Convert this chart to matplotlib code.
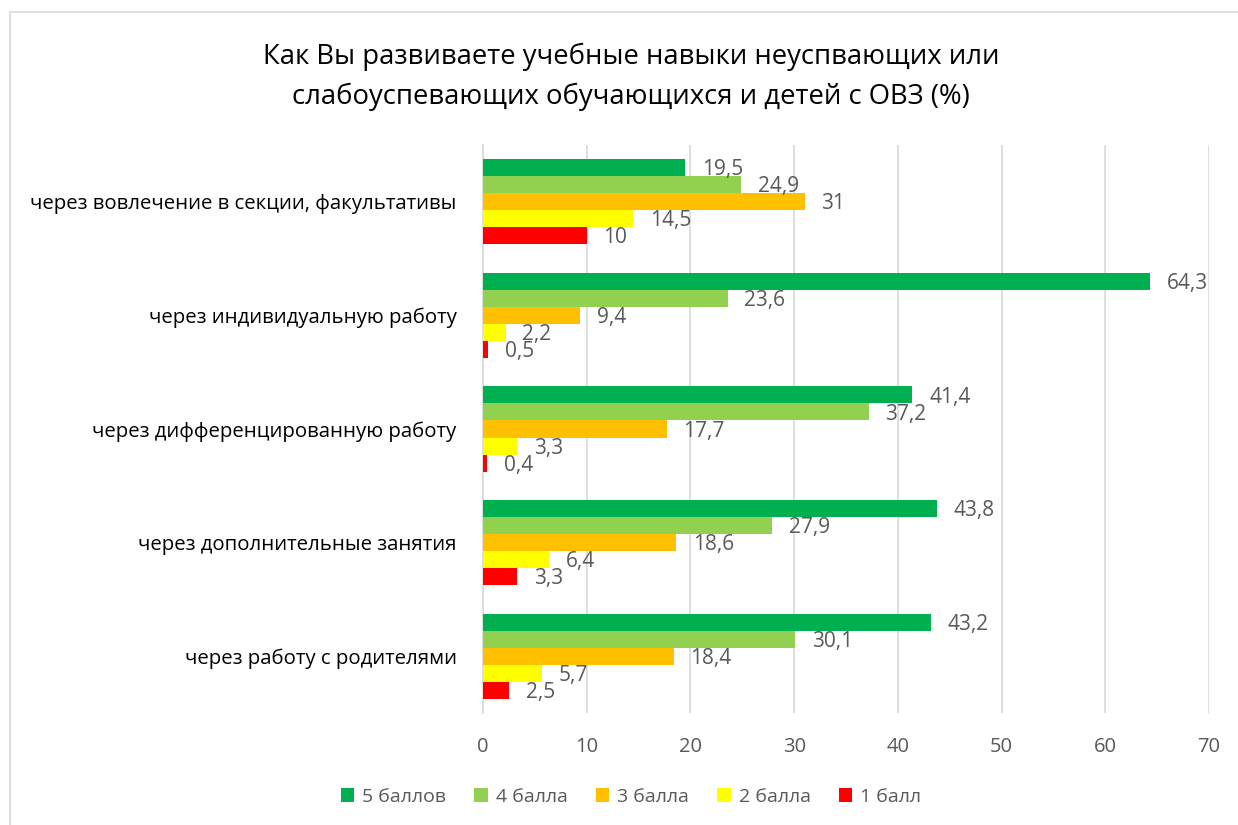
import matplotlib
matplotlib.use("Agg")
import matplotlib.pyplot as plt
import numpy as np
from matplotlib.patches import Rectangle

plt.rcParams['font.family'] = ['Open Sans', 'DejaVu Sans']

categories = [
    "через вовлечение в секции, факультативы",
    "через индивидуальную работу",
    "через дифференцированную работу",
    "через дополнительные занятия",
    "через работу с родителями",
]
series_names = ["5 баллов", "4 балла", "3 балла", "2 балла", "1 балл"]
s5 = [19.5, 64.3, 41.4, 43.8, 43.2]
s4 = [24.9, 23.6, 37.2, 27.9, 30.1]
s3 = [31, 9.4, 17.7, 18.6, 18.4]
s2 = [14.5, 2.2, 3.3, 6.4, 5.7]
s1 = [10, 0.5, 0.4, 3.3, 2.5]
series = [s5, s4, s3, s2, s1]
colors = ["#00B050", "#92D050", "#FFC000", "#FFFF00", "#FF0000"]
xticks = [0, 10, 20, 30, 40, 50, 60, 70]

W, H = 1238, 825
fig = plt.figure(figsize=(W / 100, H / 100), dpi=100)
fig.patch.set_facecolor("white")

# chart border
fig.add_artist(Rectangle((10 / W, -0.01), 1.02, (H - 12) / H + 0.01, transform=fig.transFigure,
                         fill=False, edgecolor="#D9D9D9", linewidth=1.2))

ax = fig.add_axes([483 / W, 112 / H, (1209 - 483) / W, (713 - 145) / H])

n = len(series)
bar_h = 0.75 / n
y = np.arange(len(categories))
for i, (vals, c, name) in enumerate(zip(series, colors, series_names)):
    pos = y - 0.375 + bar_h * (i + 0.5)
    ax.barh(pos, vals, height=bar_h, color=c, label=name, zorder=3)
    for p, v in zip(pos, vals):
        txt = f"{v:g}".replace(".", ",")
        ax.annotate(txt, (v, p), xytext=(12, -1.5), textcoords="offset points",
                    ha="left", va="center", fontsize=15, color="#595959", zorder=4)

ax.set_ylim(len(categories) - 0.5, -0.5)
ax.set_xlim(0, 70)
ax.set_xticks(xticks)
ax.set_xticklabels([str(t) for t in xticks], fontsize=14.5, color="#595959")
ax.set_yticks(y)
ax.set_yticklabels(categories, fontsize=14.7, color="#000000")
ax.tick_params(axis="both", length=0)
ax.tick_params(axis="x", pad=17)
ax.tick_params(axis="y", pad=19)
ax.grid(axis="x", color="#D9D9D9", linewidth=1.2, zorder=0)
for s in ["top", "right", "bottom"]:
    ax.spines[s].set_visible(False)
ax.spines["left"].set_color("#D9D9D9")
ax.spines["left"].set_linewidth(1.2)

fig.text(631 / W, 1 - 77 / H, "Как Вы развиваете учебные навыки неуспвающих или\nслабоуспевающих обучающихся и детей с ОВЗ (%)",
         ha="center", va="center", fontsize=19.8, color="#000000", linespacing=1.55)

handles, labels = ax.get_legend_handles_labels()
leg = fig.legend(handles, labels, loc="center", bbox_to_anchor=(631 / W, 1 - 797 / H), ncol=5,
                 frameon=False, fontsize=14, handlelength=0.7, handleheight=0.7,
                 handletextpad=0.4, columnspacing=1.45, labelcolor="#595959")

fig.savefig("out.png", dpi=100)
